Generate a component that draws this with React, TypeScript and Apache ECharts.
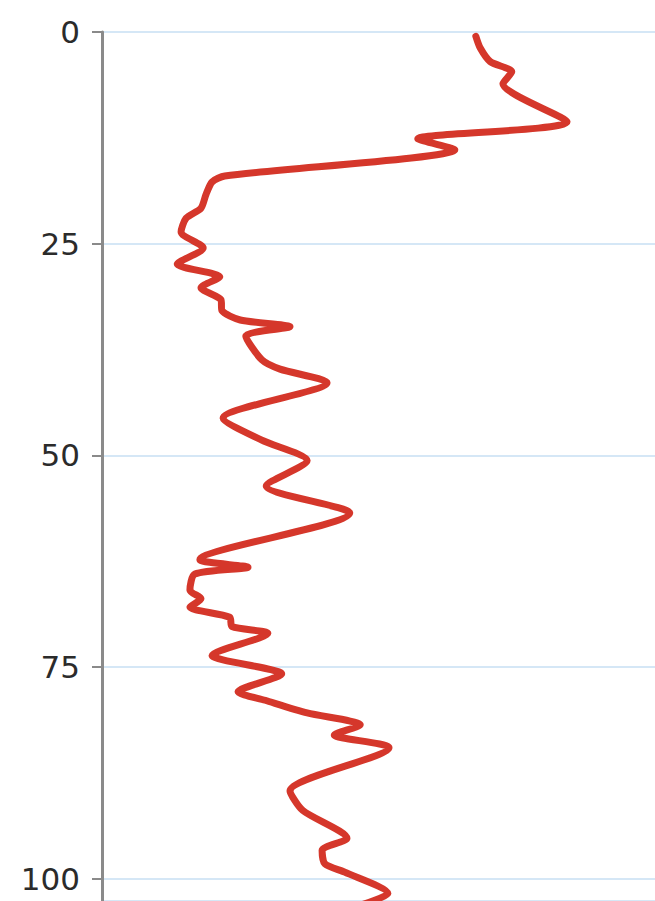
import React, { useEffect, useRef } from "react";
import * as echarts from "echarts";

// Depth profile: horizontal reading at each depth (depth grows downward)
const readings: number[] = [
  67.6, 68.4, 70.2, 74.1, 72.5, 84.1, 57.1, 63.8, 22.2, 19.9,
  18.8, 17.9, 15.2, 14.3, 18.3, 13.6, 21.3, 17.9, 21.5, 21.7,
  25.0, 34.0, 26.0, 28.9, 32.2, 40.7, 21.9, 28.9, 37.1, 29.7,
  44.8, 17.7, 26.4, 16.8, 15.9, 17.9, 15.9, 23.1, 23.5, 30.0,
  19.9, 32.5, 24.6, 29.5, 37.1, 46.7, 42.0, 51.9, 34.0, 36.3,
  44.3, 39.8, 40.3, 43.9, 51.7, 46.7,
];
const depths: number[] = [
  0.5, 1.9, 3.5, 4.7, 6.1, 10.6, 12.6, 13.9, 17.0, 17.7,
  19.2, 20.8, 22.0, 23.6, 25.5, 27.4, 28.9, 30.2, 31.6, 32.9,
  34.0, 34.8, 35.9, 38.7, 39.8, 41.4, 45.6, 48.2, 50.6, 53.6,
  56.8, 62.3, 63.2, 64.0, 65.9, 66.9, 67.9, 69.1, 70.2, 71.0,
  73.6, 75.8, 77.9, 78.9, 80.4, 81.8, 83.0, 84.5, 89.6, 91.9,
  95.2, 96.6, 98.2, 99.2, 101.7, 103.1,
];
const depthTicks: number[] = [0, 25, 50, 75, 100];

export default function App() {
  const ref = useRef<HTMLDivElement>(null);

  useEffect(() => {
    if (!ref.current) return;
    const chart = echarts.init(ref.current, undefined, { renderer: "svg" });
    const points = readings.map((v, i) => [v, depths[i]]);
    chart.setOption({
      animation: false,
      grid: { left: 102, right: 0, top: 32, bottom: 0 },
      xAxis: { type: "value", min: 0, max: 100, show: false },
      yAxis: {
        type: "value",
        inverse: true,
        min: 0,
        max: 102.6,
        interval: 25,
        axisLine: { show: true, lineStyle: { color: "#8a8a8a", width: 3 } },
        axisTick: { show: true, length: 10, lineStyle: { color: "#8a8a8a", width: 2 } },
        axisLabel: {
          margin: 22,
          fontSize: 31,
          color: "#2b2b2b",
          fontFamily: "DejaVu Sans",
          showMaxLabel: false,
          formatter: (v: number) => (depthTicks.includes(v) ? String(v) : ""),
        },
        splitLine: { show: true, lineStyle: { color: "#d5e7f6", width: 2 } },
      },
      series: [
        {
          type: "line",
          data: points,
          symbol: "none",
          smooth: 0.25,
          lineStyle: { color: "#d5372b", width: 7, cap: "round", join: "round" },
        },
      ],
    });
    return () => chart.dispose();
  }, []);

  return (
    <div
      ref={ref}
      style={{ position: "fixed", left: 0, top: 0, width: 655, height: 901, background: "#fff" }}
    />
  );
}
